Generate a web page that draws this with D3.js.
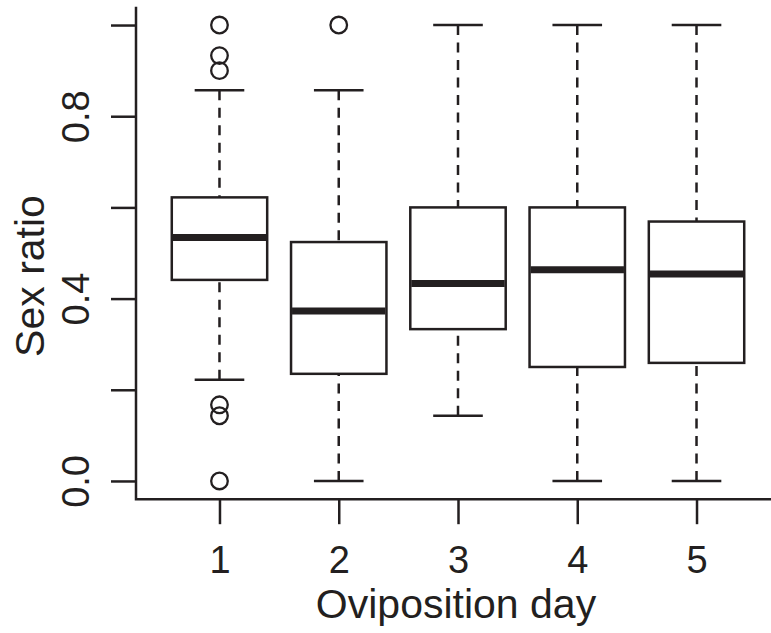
<!DOCTYPE html>
<html>
<head>
<meta charset="utf-8">
<script src="https://cdn.jsdelivr.net/npm/d3@7"></script>
<style>
  html, body { margin: 0; padding: 0; background: #ffffff; }
  svg { display: block; }
  text { font-family: "Liberation Sans", Arial, Helvetica, sans-serif; fill: #231f20; }
</style>
</head>
<body>
<svg id="chart" width="771" height="633"></svg>
<script>
// ---- data ----
const days = [1, 2, 3, 4, 5];
const lowerWhisker = [0.222, 0.0, 0.143, 0.0, 0.0];
const q1 = [0.441, 0.235, 0.333, 0.25, 0.259];
const median = [0.534, 0.373, 0.433, 0.463, 0.454];
const q3 = [0.622, 0.524, 0.6, 0.6, 0.569];
const upperWhisker = [0.857, 0.857, 1.0, 1.0, 1.0];
const outliers = [[1.0, 0.933, 0.9, 0.167, 0.143, 0.0], [1.0], [], [], []];
const yTicks = [0, 0.2, 0.4, 0.6, 0.8, 1.0];
const yTickLabels = ["0.0", "", "0.4", "", "0.8", ""];
const xLabel = "Oviposition day";
const yLabel = "Sex ratio";

const ink = "#231f20";
const lw = 2.5;

const svg = d3.select("#chart");
const x = d3.scaleLinear().domain([0.3, 5.7]).range([136, 780]);
const y = d3.scaleLinear().domain([-0.04, 1.04]).range([499.2, 6.8]);
const unit = x(2) - x(1);
const boxW = unit * 0.8;
const capW = boxW * 0.52;

const data = days.map((d, i) => ({
  day: d, lo: lowerWhisker[i], q1: q1[i], med: median[i], q3: q3[i], hi: upperWhisker[i], out: outliers[i]
}));

const g = svg.append("g");

// whiskers (dashed), drawn from whisker end toward box
g.selectAll(".wlo").data(data).join("line")
  .attr("x1", d => x(d.day)).attr("x2", d => x(d.day))
  .attr("y1", d => y(d.lo)).attr("y2", d => y(d.q1))
  .attr("stroke", ink).attr("stroke-width", lw).attr("stroke-dasharray", "10,7.5");
g.selectAll(".whi").data(data).join("line")
  .attr("x1", d => x(d.day)).attr("x2", d => x(d.day))
  .attr("y1", d => y(d.hi)).attr("y2", d => y(d.q3))
  .attr("stroke", ink).attr("stroke-width", lw).attr("stroke-dasharray", "10,7.5");

// staples
g.selectAll(".caplo").data(data).join("line")
  .attr("x1", d => x(d.day) - capW / 2).attr("x2", d => x(d.day) + capW / 2)
  .attr("y1", d => y(d.lo)).attr("y2", d => y(d.lo))
  .attr("stroke", ink).attr("stroke-width", lw);
g.selectAll(".caphi").data(data).join("line")
  .attr("x1", d => x(d.day) - capW / 2).attr("x2", d => x(d.day) + capW / 2)
  .attr("y1", d => y(d.hi)).attr("y2", d => y(d.hi))
  .attr("stroke", ink).attr("stroke-width", lw);

// boxes
g.selectAll(".box").data(data).join("rect")
  .attr("x", d => x(d.day) - boxW / 2).attr("width", boxW)
  .attr("y", d => y(d.q3)).attr("height", d => y(d.q1) - y(d.q3))
  .attr("fill", "#ffffff").attr("stroke", ink).attr("stroke-width", lw);

// medians
g.selectAll(".med").data(data).join("line")
  .attr("x1", d => x(d.day) - boxW / 2 + 1).attr("x2", d => x(d.day) + boxW / 2 - 1)
  .attr("y1", d => y(d.med)).attr("y2", d => y(d.med))
  .attr("stroke", ink).attr("stroke-width", 7);

// outliers
const outPts = data.flatMap(d => d.out.map(v => ({ day: d.day, v })));
g.selectAll(".out").data(outPts).join("circle")
  .attr("cx", d => x(d.day)).attr("cy", d => y(d.v)).attr("r", 8.3)
  .attr("fill", "none").attr("stroke", ink).attr("stroke-width", 2.3);

// axes box (L shape)
svg.append("path")
  .attr("d", `M${x(0.3)},${y(1.04)}V${y(-0.04)}H${x(5.7)}`)
  .attr("fill", "none").attr("stroke", ink).attr("stroke-width", lw);

// y axis
const yAxis = svg.append("g").attr("transform", `translate(${x(0.3)},0)`)
  .call(d3.axisLeft(y).tickValues(yTicks).tickSize(25)
    .tickFormat((d, i) => yTickLabels[i]));
yAxis.select(".domain").remove();
yAxis.selectAll(".tick line").attr("stroke", ink).attr("stroke-width", lw);
yAxis.selectAll(".tick text")
  .attr("transform", "rotate(-90)")
  .attr("x", 0).attr("y", -47).attr("dy", 0)
  .attr("text-anchor", "middle")
  .style("font-size", "38px").attr("fill", ink);

// x axis
const xAxis = svg.append("g").attr("transform", `translate(0,${y(-0.04)})`)
  .call(d3.axisBottom(x).tickValues(days).tickSize(25).tickFormat(d3.format("d")));
xAxis.select(".domain").remove();
xAxis.selectAll(".tick line").attr("stroke", ink).attr("stroke-width", lw);
xAxis.selectAll(".tick text")
  .attr("y", 74).attr("dy", 0)
  .style("font-size", "38px").attr("fill", ink);

// axis titles
svg.append("text")
  .attr("x", 456).attr("y", 618)
  .attr("text-anchor", "middle").style("font-size", "41px")
  .text(xLabel);
svg.append("text")
  .attr("transform", `translate(44,276) rotate(-90)`)
  .attr("text-anchor", "middle").style("font-size", "41px")
  .text(yLabel);
</script>
</body>
</html>
